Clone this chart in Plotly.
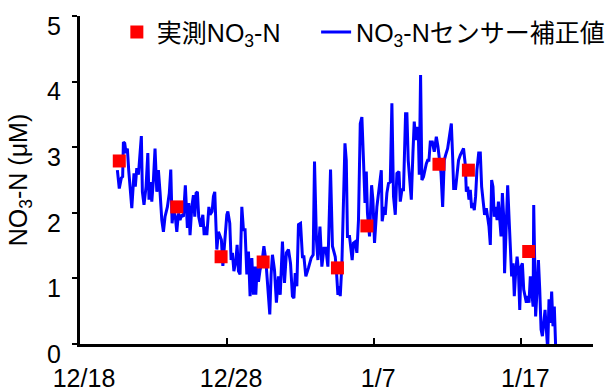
import pandas as pd
import plotly.graph_objects as go

# ---------------- data (days after 12/18, values in µM) ----------------
measured_day = [2.67, 6.58, 9.59, 12.45, 17.5, 19.5, 24.4, 26.4, 30.5]
measured_val = [2.79, 2.09, 1.33, 1.25, 1.16, 1.80, 2.74, 2.65, 1.41]

sensor_day = [
    2.54, 2.67, 2.81, 2.90, 2.95, 3.04, 3.13, 3.22, 3.31, 3.40,
    3.52, 3.67, 3.76, 3.86, 3.97, 4.17, 4.24, 4.35, 4.49, 4.61,
    4.69, 4.81, 4.88, 4.99, 5.10, 5.22, 5.33, 5.44, 5.56, 5.67,
    5.78, 5.94, 6.07, 6.17, 6.26, 6.35, 6.48, 6.58, 6.69, 6.80,
    6.92, 7.03, 7.16, 7.30, 7.39, 7.48, 7.60, 7.71, 7.80, 7.89,
    7.98, 8.07, 8.21, 8.35, 8.44, 8.52, 8.62, 8.76, 8.84, 8.98,
    9.07, 9.16, 9.25, 9.30, 9.41, 9.52, 9.61, 9.71, 9.84, 9.98,
    10.05, 10.18, 10.27, 10.36, 10.46, 10.59, 10.68, 10.77, 10.88, 11.00,
    11.11, 11.22, 11.34, 11.45, 11.56, 11.68, 11.79, 11.86, 11.95, 12.04,
    12.13, 12.24, 12.36, 12.50, 12.63, 12.77, 12.90, 12.99, 13.08, 13.22,
    13.35, 13.49, 13.61, 13.76, 13.90, 14.03, 14.17, 14.31, 14.44, 14.54,
    14.63, 14.74, 14.85, 14.99, 15.12, 15.22, 15.35, 15.53, 15.71, 15.85,
    15.94, 16.07, 16.17, 16.31, 16.44, 16.58, 16.71, 16.85, 17.03, 17.16,
    17.35, 17.44, 17.53, 17.62, 17.69, 17.80,
    18.01, 18.10, 18.18, 18.32, 18.41, 18.50, 18.59, 18.71, 18.82, 18.93,
    19.05, 19.16, 19.27, 19.37, 19.46, 19.54, 19.68, 19.82, 19.91, 20.02,
    20.18, 20.34, 20.48, 20.54, 20.68, 20.75, 20.86, 20.97, 21.09, 21.20,
    21.31, 21.43, 21.54, 21.68, 21.77, 21.88, 21.99, 22.13, 22.22, 22.31,
    22.40, 22.52, 22.63, 22.72, 22.81, 22.90, 22.99, 23.06, 23.15, 23.24,
    23.35, 23.45, 23.54, 23.63, 23.72, 23.81, 23.95, 24.08, 24.22, 24.33,
    24.44, 24.54, 24.65, 24.76, 24.85, 24.99, 25.12, 25.24, 25.33, 25.40,
    25.53, 25.62,
    25.73, 25.85, 25.97, 26.07, 26.19, 26.26, 26.35, 26.44, 26.53, 26.62,
    26.71, 26.80, 26.89, 26.98, 27.10, 27.21, 27.30, 27.39, 27.50, 27.62,
    27.71, 27.80, 27.89, 27.98, 28.07, 28.16, 28.25, 28.35, 28.44, 28.52,
    28.62, 28.71, 28.80, 28.86, 28.98, 29.07, 29.16, 29.25, 29.34, 29.44,
    29.52, 29.61, 29.71, 29.80, 29.89, 29.98, 30.07, 30.16, 30.25, 30.34,
    30.43, 30.52, 30.61, 30.70, 30.80, 30.84, 30.91, 30.97, 31.07, 31.16,
    31.25, 31.34, 31.43, 31.52, 31.61, 31.70, 31.79, 31.88, 31.97, 32.06,
    32.15, 32.24, 32.33,
]
sensor_val = [
    2.65, 2.37, 2.53, 2.55, 3.08, 3.06, 2.91, 2.98, 2.65, 2.40,
    2.07, 2.60, 2.40, 2.68, 2.58, 3.17, 2.32, 2.12, 2.40, 2.91,
    2.20, 2.47, 2.17, 2.50, 2.98, 2.32, 2.65, 2.32, 1.89, 1.71,
    1.94, 2.09, 2.30, 2.66, 1.84, 2.04, 1.94, 1.71, 1.99, 1.89,
    1.97, 1.94, 2.42, 1.77, 2.15, 1.66, 2.09, 2.27, 1.94, 2.30,
    2.32, 1.94, 1.79, 1.97, 1.66, 1.79, 1.66, 2.09, 1.97, 2.02,
    2.25, 2.32, 1.89, 1.44, 1.71, 1.64, 1.59, 1.19, 1.59, 1.97,
    2.02, 1.84, 1.28, 1.39, 1.11, 1.26, 1.51, 1.11, 1.06, 2.09,
    1.74, 1.74, 1.06, 1.41, 0.73, 1.31, 0.75, 1.18, 0.75, 1.18,
    0.95, 1.13, 1.23, 1.49, 1.28, 0.88, 0.45, 1.06, 1.36, 1.13,
    0.63, 1.03, 0.75, 1.56, 0.93, 1.39, 1.44, 1.23, 0.73, 0.70,
    1.08, 0.88, 1.82, 1.84, 1.33, 1.33, 1.03, 1.16, 1.31, 1.36,
    2.78, 1.59, 1.28, 1.79, 1.18, 1.46, 1.46, 1.18, 2.66, 1.49,
    1.33, 1.08, 0.75, 0.88, 0.73, 1.21,
    3.06, 2.80, 1.64, 1.64, 1.44, 1.28, 1.54, 1.56, 1.39, 1.89,
    3.36, 3.46, 2.80, 2.15, 2.63, 1.99, 1.64, 2.42, 2.20, 1.54,
    2.09, 2.40, 2.65, 1.87, 2.09, 1.97, 2.30, 2.45, 2.47, 3.67,
    2.25, 1.97, 2.60, 2.63, 2.17, 2.35, 2.35, 3.51, 3.51, 2.80,
    2.55, 2.20, 2.91, 3.39, 3.11, 3.29, 3.29, 2.58, 4.10, 2.50,
    2.55, 2.68, 2.75, 2.80, 2.80, 3.08, 3.08, 2.93, 3.16, 3.01,
    2.80, 2.60, 2.09, 2.80, 2.88, 2.98, 3.18, 3.36, 2.85, 2.37,
    2.37, 2.55,
    2.80, 2.88, 2.93, 2.98, 2.73, 2.32, 2.40, 2.20, 2.35, 2.07,
    2.15, 2.04, 2.25, 2.65, 2.91, 2.91, 2.40, 2.15, 1.97, 2.07,
    1.94, 1.79, 1.51, 2.50, 2.40, 1.94, 2.09, 1.89, 2.17, 1.89,
    1.64, 2.30, 1.94, 1.08, 1.99, 2.42, 1.94, 1.44, 1.03, 1.23,
    0.73, 1.08, 1.33, 1.13, 0.52, 1.18, 1.23, 0.83, 0.73, 0.63,
    0.73, 0.63, 1.03, 0.83, 0.57, 2.12, 1.28, 0.42, 0.83, 1.28,
    0.83, 0.22, 0.12, 0.32, 0.52, 0.22, -0.08, 0.68, 0.32, 0.80,
    0.27, 0.57, -0.03,
]

tick_days = [0, 10, 20, 30]
tick_labels = ["12/18", "12/28", "1/7", "1/17"]
x_end_day = 34.87

base = pd.Timestamp("2019-12-18")


def to_dt(days):
    return [base + pd.to_timedelta(d, unit="D") for d in days]


FONT = "Liberation Sans, Arial, Noto Sans CJK JP, sans-serif"

fig = go.Figure()
fig.add_trace(go.Scatter(
    x=to_dt(sensor_day), y=sensor_val, mode="lines",
    name="NO<sub>3</sub>-Nセンサー補正値",
    line=dict(color="#0000FF", width=3),
    legend="legend2",
))
fig.add_trace(go.Scatter(
    x=to_dt(measured_day), y=measured_val, mode="markers",
    name="実測NO<sub>3</sub>-N",
    marker=dict(symbol="square", size=13, color="#FF0000",
                line=dict(width=0)),
    legend="legend",
))

legend_common = dict(orientation="h", yanchor="middle", xanchor="left",
                     xref="container", yref="container",
                     font=dict(size=25), bgcolor="rgba(0,0,0,0)")

fig.update_layout(
    width=615, height=388,
    margin=dict(l=80, r=22, t=16, b=44, autoexpand=False),
    paper_bgcolor="white", plot_bgcolor="white",
    font=dict(family=FONT, size=25, color="black"),
    showlegend=True,
    legend=dict(x=0.19, y=0.917, **legend_common),
    legend2=dict(x=0.514, y=0.917, **legend_common),
    xaxis=dict(
        range=[base, base + pd.to_timedelta(x_end_day, unit="D")],
        tickvals=to_dt(tick_days), ticktext=tick_labels,
        showline=True, linecolor="black", linewidth=3,
        ticks="inside", ticklen=6, tickwidth=2, tickcolor="black",
        showgrid=False, zeroline=False, automargin=False,
        tickfont=dict(size=25), ticklabelstandoff=10, ticklabelshift=4,
        ticklabeloverflow="allow",
    ),
    yaxis=dict(
        range=[0, 5], tickvals=[0, 1, 2, 3, 4, 5],
        showline=True, linecolor="black", linewidth=3,
        ticks="outside", ticklen=5, tickwidth=2, tickcolor="black",
        showgrid=False, zeroline=False, automargin=False,
        tickfont=dict(size=25), ticklabelstandoff=6, ticklabelshift=10,
        ticklabeloverflow="allow",
        title=dict(text="NO<sub>3</sub>-N (μM)", font=dict(size=25),
                   standoff=13),
    ),
)

fig.write_html("out.html")
